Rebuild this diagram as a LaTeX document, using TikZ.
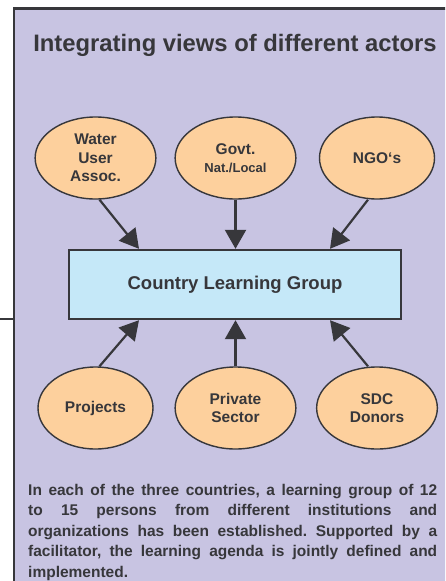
\documentclass[tikz,border=0pt]{standalone}
\usepackage{fontspec}
\setmainfont{Liberation Sans}
\usepackage{tikz}
\usetikzlibrary{arrows.meta,shapes.geometric}
\newcommand{\mline}[2]{\begin{minipage}[h]{#1}\centering #2\end{minipage}}
\definecolor{lavender}{HTML}{C8C4E2}
\definecolor{peach}{HTML}{FDD09D}
\definecolor{paleblue}{HTML}{C5E8F8}
\definecolor{ink}{HTML}{37373B}

\begin{document}
\begin{tikzpicture}[x=1pt, y=-1pt, font=\bfseries, text=ink,
  actor/.style={ellipse, draw=ink, line width=1.4pt, fill=peach, minimum width=115pt, minimum height=82pt, inner sep=0pt, font=\fontsize{15.5}{18.5}\selectfont\bfseries},
  grp/.style={draw=ink, line width=2.4pt, fill=paleblue, minimum width=332pt, minimum height=69pt, font=\fontsize{18.5}{22}\selectfont\bfseries},
  arr/.style={draw=ink, line width=2.2pt, -{Triangle[length=19pt,width=21pt]}},
  ]

\useasboundingbox (0,0) rectangle (445,581);
\begin{scope}
\clip (0,0) rectangle (445,581);
\path[fill=lavender, draw=ink, line width=2.6pt] (14,8.5) rectangle (460,600);
\end{scope}
\draw[ink, line width=2pt] (0,318.7) -- (12.7,318.7);

\path (235,45) node[font=\fontsize{23.8}{28}\selectfont\bfseries](ttl){Integrating views of different actors};

\path (95.5,158) node[actor](wua){\mline{3cm}{Water\\User\\Assoc.}};
\path (235.5,158) node[actor](gov){\mline{3cm}{Govt.\\{\fontsize{13}{16}\selectfont Nat./Local}}};
\path (377,158) node[actor](ngo){NGO‘s};

\path (235,284.5) node[grp](clg){Country Learning Group};

\path (95.5,408) node[actor](prj){Projects};
\path (235.5,408) node[actor](pvt){\mline{3cm}{Private\\Sector}};
\path (377,408) node[actor](sdc){\mline{3cm}{SDC\\Donors}};

\path (28,484) node[anchor=north west, text width=409pt, align=justify, inner sep=0pt,
  font=\fontsize{15.5}{20.5}\selectfont\bfseries\frenchspacing](txt){In each of the three countries, a learning group of 12\linebreak
  to 15 persons from different institutions and\linebreak
  organizations has been established. Supported by a\linebreak
  facilitator, the learning agenda is jointly defined and\linebreak
  implemented.};

\draw[arr] ([xshift=4pt]wua.south) -- ([xshift=-96pt]clg.north);
\draw[arr] (gov.south) -- (gov.south |- clg.north);
\draw[arr] ([xshift=-9pt]ngo.south) -- ([xshift=95pt]clg.north);

\draw[arr] ([xshift=4pt]prj.north) -- ([xshift=-96pt]clg.south);
\draw[arr] (pvt.north) -- (pvt.north |- clg.south);
\draw[arr] ([xshift=-9pt]sdc.north) -- ([xshift=95pt]clg.south);

\end{tikzpicture}
\end{document}
